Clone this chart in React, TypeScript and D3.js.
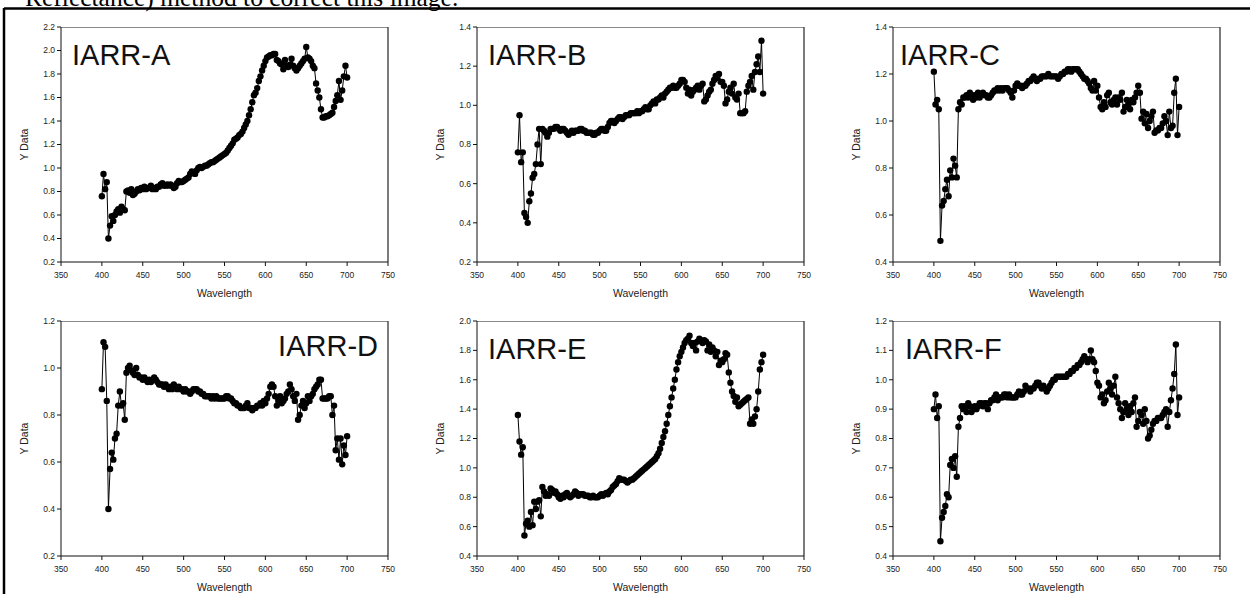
import React from "react";
import * as d3 from "d3";

const WAVELENGTHS = [
  400, 402, 404, 406, 408, 410, 412, 414, 416, 418,
  420, 422, 424, 426, 428, 430, 432, 434, 436, 438,
  440, 442, 444, 446, 448, 450, 452, 454, 456, 458,
  460, 462, 464, 466, 468, 470, 472, 474, 476, 478,
  480, 482, 484, 486, 488, 490, 492, 494, 496, 498,
  500, 502, 504, 506, 508, 510, 512, 514, 516, 518,
  520, 522, 524, 526, 528, 530, 532, 534, 536, 538,
  540, 542, 544, 546, 548, 550, 552, 554, 556, 558,
  560, 562, 564, 566, 568, 570, 572, 574, 576, 578,
  580, 582, 584, 586, 588, 590, 592, 594, 596, 598,
  600, 602, 604, 606, 608, 610, 612, 614, 616, 618,
  620, 622, 624, 626, 628, 630, 632, 634, 636, 638,
  640, 642, 644, 646, 648, 650, 652, 654, 656, 658,
  660, 662, 664, 666, 668, 670, 672, 674, 676, 678,
  680, 682, 684, 686, 688, 690, 692, 694, 696, 698,
  700,
];

const IARR_A = [
  0.76, 0.95, 0.82, 0.88, 0.40, 0.51, 0.59, 0.55, 0.60, 0.63,
  0.65, 0.62, 0.67, 0.65, 0.64, 0.80, 0.81, 0.79, 0.82, 0.77,
  0.78, 0.80, 0.82, 0.81, 0.83, 0.82, 0.84, 0.82, 0.83, 0.83,
  0.85, 0.82, 0.83, 0.82, 0.84, 0.84, 0.86, 0.87, 0.85, 0.85,
  0.86, 0.85, 0.86, 0.85, 0.83, 0.84, 0.87, 0.89, 0.88, 0.88,
  0.89, 0.90, 0.91, 0.92, 0.95, 0.97, 0.96, 0.95, 0.98, 1.00,
  1.01, 1.00, 1.01, 1.02, 1.02, 1.03, 1.04, 1.05, 1.05, 1.06,
  1.07, 1.08, 1.09, 1.10, 1.11, 1.12, 1.13, 1.15, 1.17, 1.19,
  1.21, 1.24, 1.25, 1.26, 1.28, 1.29, 1.31, 1.34, 1.37, 1.40,
  1.45, 1.50, 1.56, 1.62, 1.64, 1.68, 1.74, 1.78, 1.83, 1.87,
  1.91, 1.94, 1.95, 1.96, 1.96, 1.97, 1.97, 1.92, 1.91, 1.89,
  1.88, 1.84, 1.92, 1.87, 1.86, 1.88, 1.93, 1.87, 1.85, 1.83,
  1.85, 1.87, 1.89, 1.91, 1.93, 2.03, 1.94, 1.93, 1.91, 1.87,
  1.85, 1.72, 1.66, 1.60, 1.50, 1.43, 1.43, 1.44, 1.44, 1.45,
  1.46, 1.47, 1.52, 1.57, 1.62, 1.74, 1.58, 1.66, 1.78, 1.87,
  1.77,
];

const IARR_B = [
  0.76, 0.95, 0.71, 0.76, 0.45, 0.43, 0.40, 0.51, 0.55, 0.63,
  0.65, 0.70, 0.80, 0.88, 0.70, 0.88, 0.87, 0.86, 0.84, 0.86,
  0.88, 0.88, 0.88, 0.89, 0.89, 0.88, 0.87, 0.88, 0.88, 0.87,
  0.86, 0.85, 0.86, 0.87, 0.86, 0.87, 0.87, 0.87, 0.88, 0.88,
  0.87, 0.87, 0.86, 0.86, 0.86, 0.86, 0.85, 0.85, 0.86, 0.86,
  0.87, 0.88, 0.88, 0.87, 0.87, 0.89, 0.91, 0.92, 0.92, 0.91,
  0.92, 0.93, 0.94, 0.94, 0.93, 0.94, 0.95, 0.95, 0.95, 0.96,
  0.96, 0.96, 0.96, 0.97, 0.96, 0.97, 0.97, 0.98, 0.99, 0.98,
  0.98, 1.00, 1.01, 1.02, 1.01, 1.03, 1.03, 1.04, 1.05, 1.04,
  1.06, 1.07, 1.08, 1.09, 1.09, 1.10, 1.09, 1.09, 1.10, 1.11,
  1.13, 1.13, 1.12, 1.09, 1.06, 1.08, 1.05, 1.07, 1.08, 1.09,
  1.10, 1.08, 1.10, 1.11, 1.02, 1.03, 1.05, 1.07, 1.08, 1.11,
  1.13, 1.15, 1.14, 1.16, 1.12, 1.12, 1.10, 1.01, 1.03, 1.07,
  1.09, 1.06, 1.11, 1.04, 1.03, 1.06, 0.96, 0.96, 0.96, 0.97,
  1.07, 1.10, 1.12, 1.15, 1.08, 1.17, 1.21, 1.25, 1.17, 1.33,
  1.06,
];

const IARR_C = [
  1.21, 1.07, 1.09, 1.05, 0.49, 0.64, 0.66, 0.71, 0.75, 0.68,
  0.79, 0.76, 0.84, 0.81, 0.76, 1.05, 1.08, 1.07, 1.10, 1.10,
  1.11, 1.10, 1.12, 1.11, 1.09, 1.11, 1.10, 1.12, 1.10, 1.11,
  1.12, 1.11, 1.11, 1.10, 1.10, 1.11, 1.12, 1.13, 1.13, 1.14,
  1.13, 1.14, 1.13, 1.14, 1.14, 1.14, 1.13, 1.12, 1.10, 1.13,
  1.15, 1.16, 1.15, 1.15, 1.14, 1.15, 1.15, 1.16, 1.17, 1.17,
  1.18, 1.19, 1.18, 1.17, 1.18, 1.18, 1.19, 1.19, 1.19, 1.19,
  1.20, 1.19, 1.19, 1.19, 1.19, 1.19, 1.18, 1.19, 1.20, 1.20,
  1.21, 1.21, 1.22, 1.22, 1.21, 1.22, 1.22, 1.22, 1.22, 1.21,
  1.20, 1.19, 1.18, 1.18, 1.17, 1.16, 1.14, 1.13, 1.17, 1.13,
  1.15, 1.10, 1.06, 1.05, 1.08, 1.06, 1.11, 1.12, 1.08, 1.07,
  1.09, 1.10, 1.07, 1.10, 1.09, 1.12, 1.04, 1.06, 1.09, 1.07,
  1.05, 1.09, 1.08, 1.10, 1.12, 1.15, 1.12, 1.01, 1.04, 0.99,
  1.03, 0.97, 1.00, 1.02, 1.04, 0.95, 0.96, 0.96, 0.97, 0.97,
  0.99, 1.02, 1.00, 0.94, 1.04, 0.97, 0.98, 1.12, 1.18, 0.94,
  1.06,
];

const IARR_D = [
  0.91, 1.11, 1.09, 0.86, 0.40, 0.57, 0.64, 0.61, 0.70, 0.72,
  0.84, 0.90, 0.84, 0.85, 0.78, 0.98, 1.00, 1.01, 0.99, 0.98,
  0.97, 1.00, 0.97, 0.96, 0.96, 0.95, 0.96, 0.95, 0.94, 0.95,
  0.94, 0.95, 0.96, 0.95, 0.94, 0.93, 0.93, 0.93, 0.92, 0.93,
  0.92, 0.91, 0.92, 0.91, 0.93, 0.92, 0.91, 0.92, 0.91, 0.91,
  0.90, 0.91, 0.90, 0.90, 0.89, 0.90, 0.91, 0.91, 0.91, 0.90,
  0.90, 0.89, 0.89, 0.88, 0.88, 0.88, 0.88, 0.87, 0.88, 0.87,
  0.88, 0.87, 0.87, 0.87, 0.87, 0.87, 0.88, 0.88, 0.87, 0.87,
  0.86, 0.85, 0.85, 0.84, 0.84, 0.83, 0.83, 0.83, 0.84, 0.85,
  0.83, 0.83, 0.82, 0.83, 0.83, 0.84, 0.84, 0.85, 0.84, 0.86,
  0.85, 0.87, 0.89, 0.92, 0.93, 0.92, 0.88, 0.84, 0.86, 0.88,
  0.85, 0.86, 0.87, 0.89, 0.90, 0.93, 0.91, 0.88, 0.86, 0.89,
  0.78, 0.80, 0.84, 0.86, 0.83, 0.85, 0.88, 0.86, 0.88, 0.89,
  0.91, 0.92, 0.93, 0.95, 0.95, 0.87, 0.87, 0.87, 0.87, 0.88,
  0.88, 0.80, 0.84, 0.65, 0.70, 0.61, 0.70, 0.59, 0.67, 0.63,
  0.71,
];

const IARR_E = [
  1.36, 1.18, 1.09, 1.14, 0.54, 0.62, 0.64, 0.60, 0.70, 0.61,
  0.77, 0.72, 0.77, 0.78, 0.67, 0.87, 0.84, 0.81, 0.82, 0.81,
  0.86, 0.85, 0.83, 0.84, 0.82, 0.80, 0.79, 0.81, 0.80, 0.82,
  0.83, 0.81, 0.80, 0.81, 0.82, 0.84, 0.83, 0.81, 0.82, 0.82,
  0.82, 0.81, 0.81, 0.81, 0.80, 0.80, 0.81, 0.80, 0.80, 0.80,
  0.81, 0.82, 0.81, 0.82, 0.83, 0.82, 0.84, 0.85, 0.87, 0.88,
  0.89, 0.91, 0.93, 0.92, 0.92, 0.92, 0.91, 0.90, 0.91, 0.92,
  0.92, 0.93, 0.94, 0.95, 0.96, 0.97, 0.98, 0.99, 1.00, 1.01,
  1.02, 1.03, 1.04, 1.05, 1.06, 1.08, 1.10, 1.13, 1.17, 1.21,
  1.25, 1.30, 1.36, 1.42, 1.48, 1.54, 1.60, 1.67, 1.72, 1.76,
  1.79, 1.82, 1.85, 1.87, 1.88, 1.90, 1.85, 1.83, 1.85, 1.80,
  1.86, 1.88, 1.87, 1.85, 1.87, 1.86, 1.80, 1.84, 1.79, 1.82,
  1.80, 1.76, 1.79, 1.70, 1.73, 1.72, 1.74, 1.78, 1.77, 1.65,
  1.58, 1.52, 1.49, 1.45, 1.48, 1.42, 1.43, 1.44, 1.45, 1.46,
  1.47, 1.48, 1.30, 1.33, 1.30, 1.35, 1.40, 1.52, 1.67, 1.72,
  1.77,
];

const IARR_F = [
  0.90, 0.95, 0.87, 0.91, 0.45, 0.53, 0.55, 0.57, 0.61, 0.60,
  0.71, 0.73, 0.70, 0.74, 0.67, 0.84, 0.87, 0.91, 0.90, 0.91,
  0.89, 0.92, 0.91, 0.89, 0.90, 0.91, 0.90, 0.91, 0.92, 0.92,
  0.91, 0.92, 0.92, 0.90, 0.92, 0.93, 0.93, 0.94, 0.95, 0.93,
  0.94, 0.94, 0.94, 0.95, 0.95, 0.94, 0.95, 0.94, 0.94, 0.94,
  0.94, 0.95, 0.96, 0.95, 0.95, 0.96, 0.98, 0.97, 0.97, 0.96,
  0.97, 0.97, 0.98, 0.99, 0.99, 0.98, 0.97, 0.98, 0.97, 0.96,
  0.97, 0.98, 0.99, 1.00, 1.00, 1.01, 1.01, 1.01, 1.01, 1.01,
  1.01, 1.01, 1.02, 1.02, 1.03, 1.03, 1.04, 1.04, 1.05, 1.05,
  1.06, 1.07, 1.08, 1.07, 1.06, 1.07, 1.10, 1.07, 1.06, 1.03,
  0.99, 0.98, 0.94, 0.95, 0.92, 0.93, 0.96, 0.99, 0.97, 0.95,
  0.98, 1.01, 0.94, 0.92, 0.90, 0.87, 0.89, 0.92, 0.90, 0.88,
  0.91, 0.89, 0.92, 0.94, 0.84, 0.86, 0.89, 0.88, 0.85, 0.90,
  0.86, 0.80, 0.81, 0.83, 0.85, 0.86, 0.86, 0.87, 0.87, 0.87,
  0.88, 0.89, 0.90, 0.84, 0.89, 0.93, 0.97, 1.02, 1.12, 0.88,
  0.94,
];

const X_TICKS = [350, 400, 450, 500, 550, 600, 650, 700, 750];
const Y_TICKS_A = [0.2, 0.4, 0.6, 0.8, 1.0, 1.2, 1.4, 1.6, 1.8, 2.0, 2.2];
const Y_TICKS_B = [0.2, 0.4, 0.6, 0.8, 1.0, 1.2, 1.4];
const Y_TICKS_C = [0.4, 0.6, 0.8, 1.0, 1.2, 1.4];
const Y_TICKS_D = [0.2, 0.4, 0.6, 0.8, 1.0, 1.2];
const Y_TICKS_E = [0.4, 0.6, 0.8, 1.0, 1.2, 1.4, 1.6, 1.8, 2.0];
const Y_TICKS_F = [0.4, 0.5, 0.6, 0.7, 0.8, 0.9, 1.0, 1.1, 1.2];
const PANEL_LABELS = ["IARR-A", "IARR-B", "IARR-C", "IARR-D", "IARR-E", "IARR-F"];
const X_TITLE = "Wavelength";
const Y_TITLE = "Y Data";
const HEADER_TEXT = "Reflectance) method to correct this image.";

const SERIES = [IARR_A, IARR_B, IARR_C, IARR_D, IARR_E, IARR_F];
const Y_TICK_SETS = [Y_TICKS_A, Y_TICKS_B, Y_TICKS_C, Y_TICKS_D, Y_TICKS_E, Y_TICKS_F];

// layout
const COL_LEFT = [61, 477, 893];
const ROW_TOP = [27, 321];
const PLOT_W = 327;
const PLOT_H = 235;
const LABEL_POS = [
  { dx: 11, dy: 38, anchor: "start" },
  { dx: 11, dy: 38, anchor: "start" },
  { dx: 7, dy: 38, anchor: "start" },
  { dx: PLOT_W - 10, dy: 35, anchor: "end" },
  { dx: 11, dy: 38, anchor: "start" },
  { dx: 12, dy: 38, anchor: "start" },
];

const SANS = "'Liberation Sans', Arial, sans-serif";
const fmt = d3.format(".1f");

function Panel({ idx }: { idx: number }) {
  const left = COL_LEFT[idx % 3];
  const top = ROW_TOP[Math.floor(idx / 3)];
  const yTicks = Y_TICK_SETS[idx];
  const values = SERIES[idx];
  const x = d3.scaleLinear().domain([X_TICKS[0], X_TICKS[X_TICKS.length - 1]]).range([0, PLOT_W]);
  const y = d3
    .scaleLinear()
    .domain([yTicks[0], yTicks[yTicks.length - 1]])
    .range([PLOT_H, 0]);
  const n = Math.min(values.length, WAVELENGTHS.length);
  const pts: [number, number][] = [];
  for (let i = 0; i < n; i++) pts.push([WAVELENGTHS[i], values[i]]);
  const line = d3
    .line<[number, number]>()
    .x((d) => x(d[0]))
    .y((d) => y(d[1]));
  const lp = LABEL_POS[idx];
  return (
    <g transform={`translate(${left},${top})`}>
      {/* frame */}
      <line x1={0} y1={0.5} x2={PLOT_W} y2={0.5} stroke="#8a8a8a" strokeWidth={1} />
      <line x1={PLOT_W} y1={0} x2={PLOT_W} y2={PLOT_H} stroke="#444" strokeWidth={1.4} />
      <line x1={0} y1={0} x2={0} y2={PLOT_H} stroke="#111" strokeWidth={1} />
      <line x1={0} y1={PLOT_H} x2={PLOT_W} y2={PLOT_H} stroke="#111" strokeWidth={1} />
      {/* y ticks */}
      {yTicks.map((t) => (
        <g key={"y" + t} transform={`translate(0,${y(t)})`}>
          <line x1={-4} x2={0} stroke="#111" strokeWidth={1} />
          <text x={-6} dy="0.34em" textAnchor="end" fontSize={8.5} fontFamily={SANS} fill="#222">
            {fmt(t)}
          </text>
        </g>
      ))}
      {/* x ticks */}
      {X_TICKS.map((t) => (
        <g key={"x" + t} transform={`translate(${x(t)},${PLOT_H})`}>
          <line y1={0} y2={4} stroke="#111" strokeWidth={1} />
          <text y={16} textAnchor="middle" fontSize={8.5} fontFamily={SANS} fill="#222">
            {t}
          </text>
        </g>
      ))}
      {/* titles */}
      <text
        x={PLOT_W / 2}
        y={PLOT_H + 34.5}
        textAnchor="middle"
        fontSize={10.5}
        fontFamily={SANS}
        fill="#222"
      >
        {X_TITLE}
      </text>
      <text
        transform={`translate(-33,${PLOT_H / 2}) rotate(-90)`}
        textAnchor="middle"
        fontSize={10.5}
        fontFamily={SANS}
        fill="#222"
      >
        {Y_TITLE}
      </text>
      {/* data */}
      <path d={line(pts) || ""} fill="none" stroke="#000" strokeWidth={1} />
      {pts.map((d, i) => (
        <circle key={i} cx={x(d[0])} cy={y(d[1])} r={3.2} fill="#000" />
      ))}
      <text
        x={lp.dx}
        y={lp.dy}
        textAnchor={lp.anchor as any}
        fontSize={29}
        fontFamily={SANS}
        fill="#111"
      >
        {PANEL_LABELS[idx]}
      </text>
    </g>
  );
}

export default function App() {
  return (
    <svg
      width={1250}
      height={594}
      style={{ position: "absolute", left: 0, top: 0, background: "#fff" }}
    >
      <rect x={0} y={0} width={1250} height={594} fill="#fff" />
      <text x={25} y={6} fontSize={25.5} fontFamily="'Liberation Serif', 'Times New Roman', serif" fill="#000">
        {HEADER_TEXT}
      </text>
      <line x1={4} y1={8.5} x2={1250} y2={8.5} stroke="#000" strokeWidth={2.5} />
      <line x1={4} y1={8} x2={4} y2={594} stroke="#000" strokeWidth={2.5} />
      {[0, 1, 2, 3, 4, 5].map((i) => (
        <Panel key={i} idx={i} />
      ))}
    </svg>
  );
}
